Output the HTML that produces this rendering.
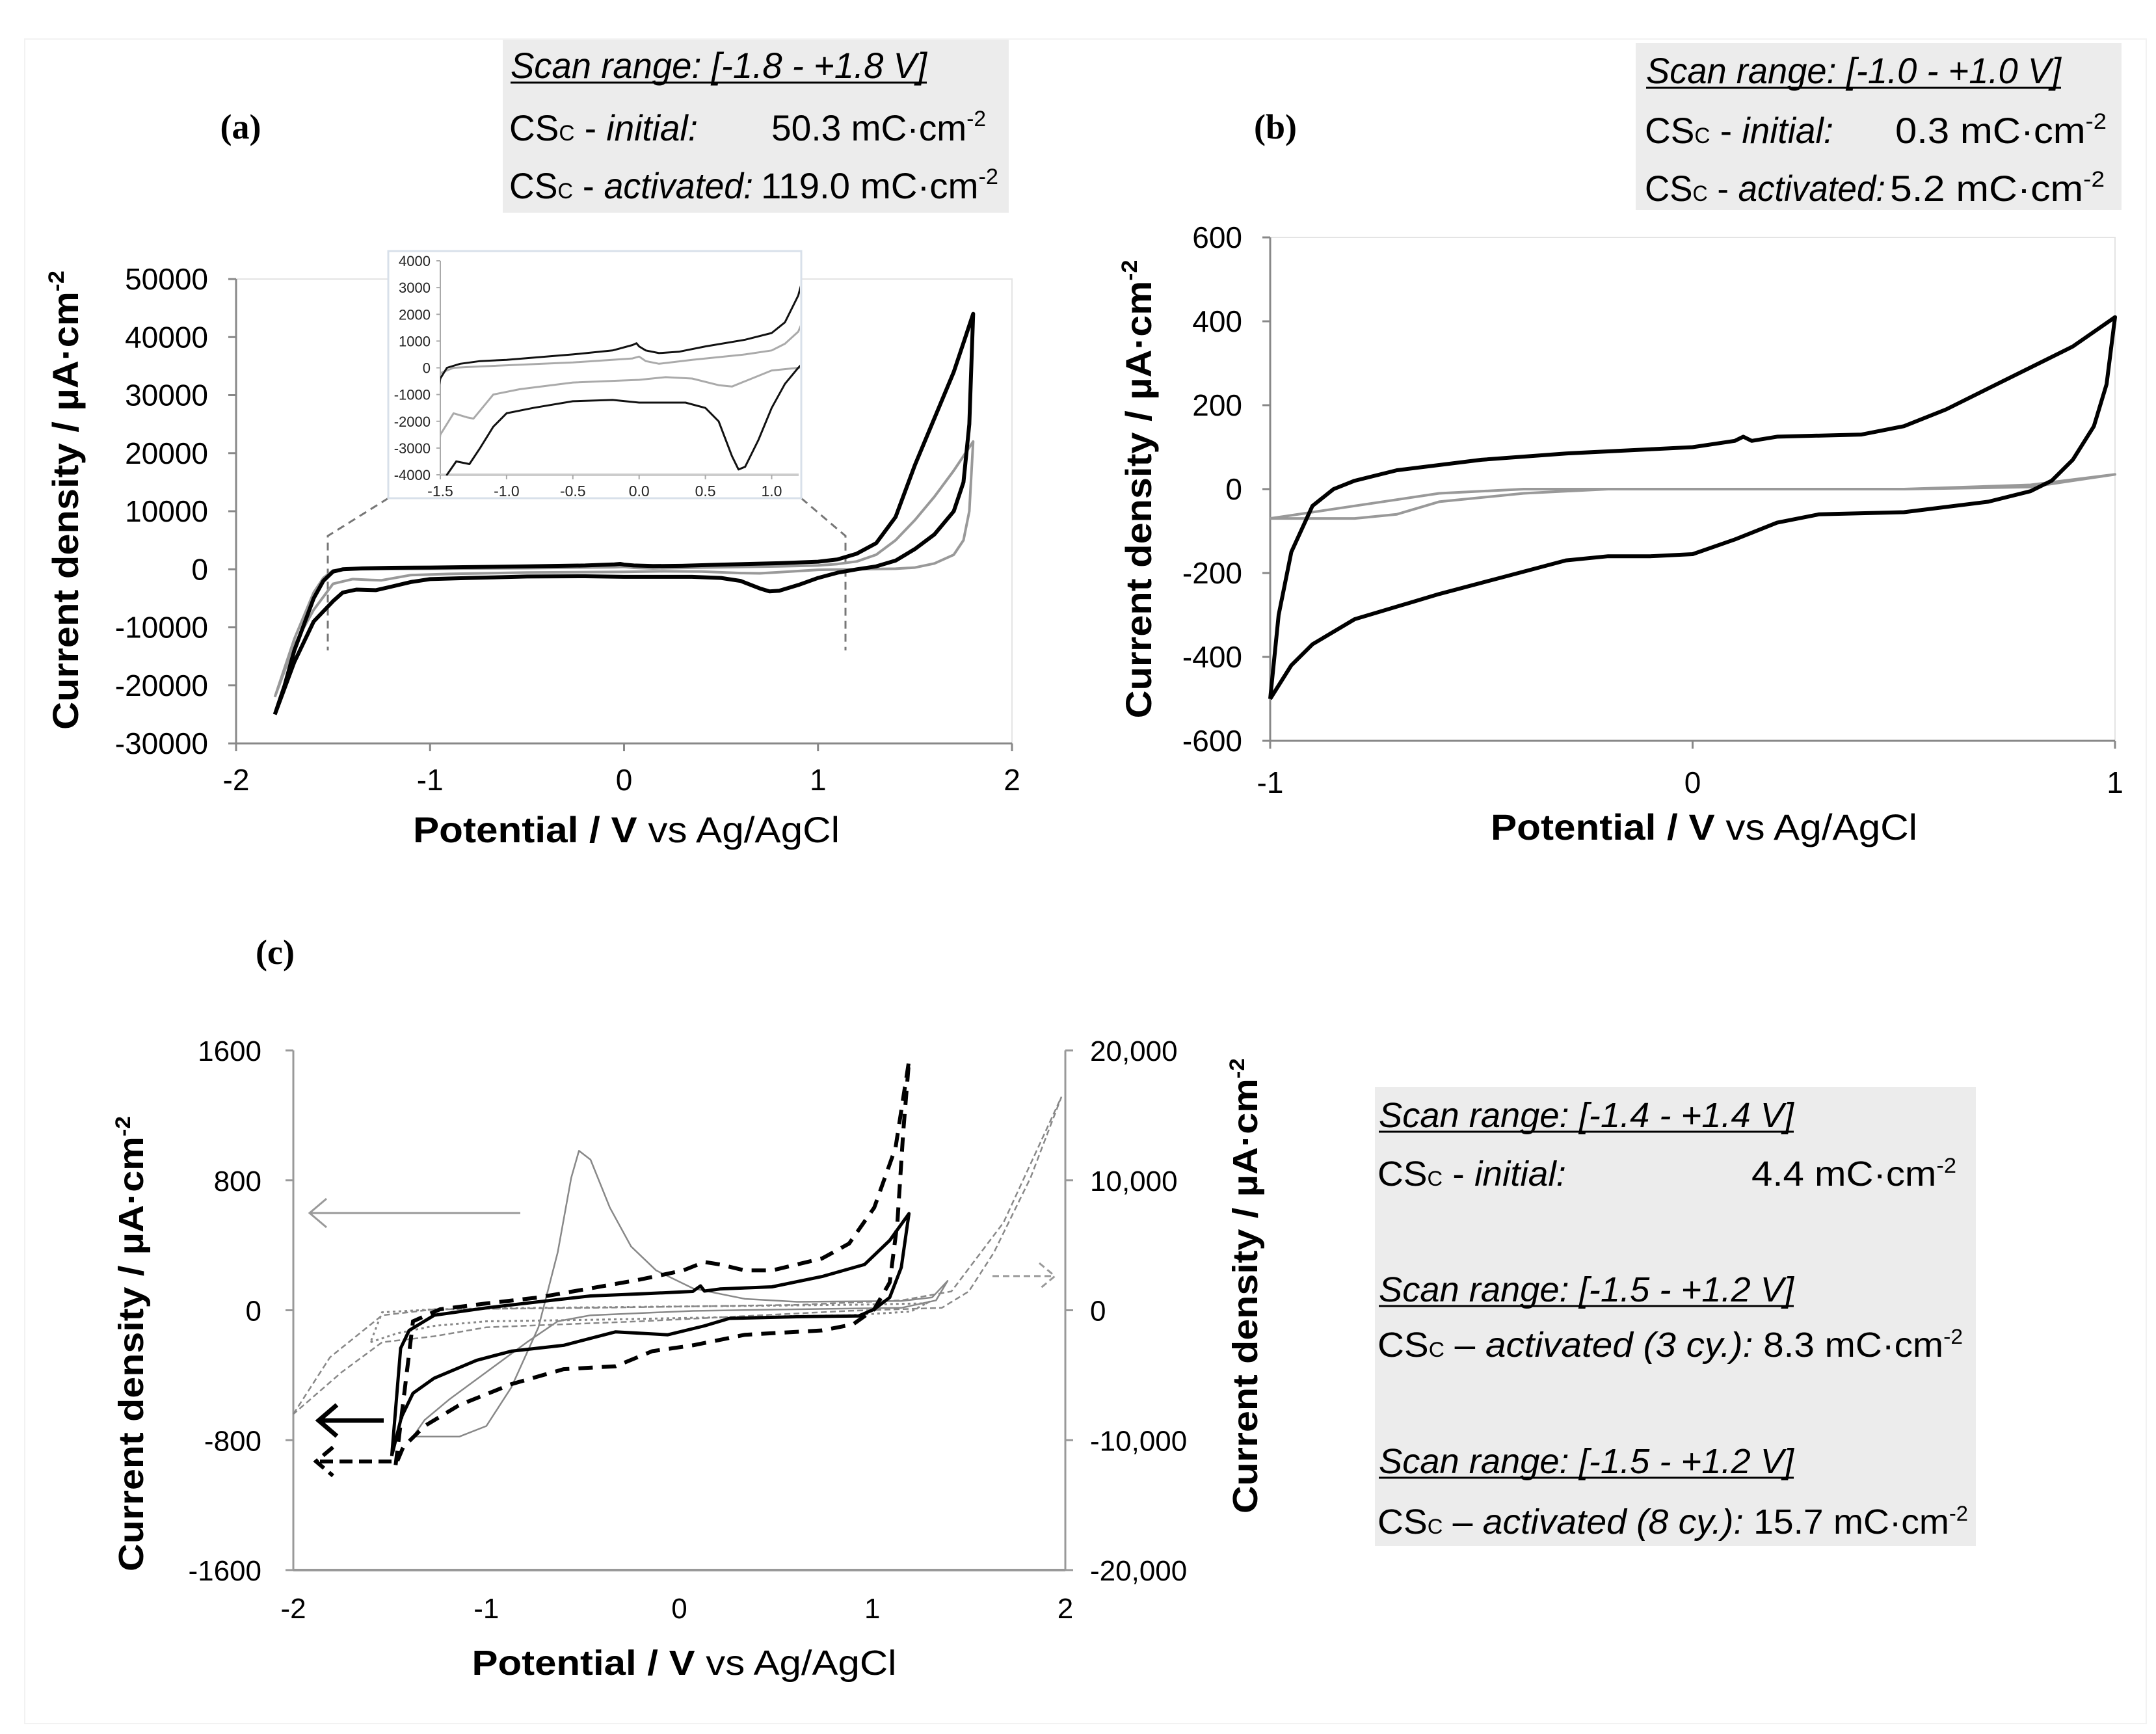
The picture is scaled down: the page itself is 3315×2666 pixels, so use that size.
<!DOCTYPE html>
<html><head><meta charset="utf-8"><style>
html,body{margin:0;padding:0;background:#fff;}
svg{display:block;font-family:"Liberation Sans",sans-serif;}
</style></head><body>
<svg id="fig" xmlns="http://www.w3.org/2000/svg" width="3315" height="2666" viewBox="0 0 3315 2666">
<rect x="0" y="0" width="3315" height="2666" fill="#fff"/>
<rect x="38" y="60" width="3262" height="2590" fill="none" stroke="#f2f2f2" stroke-width="2"/>

<g>
<text x="370" y="213" font-family="Liberation Serif" font-weight="bold" font-size="54" text-anchor="middle">(a)</text>
<rect x="773" y="61" width="778" height="266" fill="#ececec"/>
<text x="785" y="120" font-size="56" font-style="italic" textLength="640" lengthAdjust="spacingAndGlyphs">Scan range: [-1.8 - +1.8 V]</text>
<line x1="785" y1="127" x2="1425" y2="127" stroke="#000" stroke-width="3"/>
<text x="783" y="216" font-size="56" textLength="290" lengthAdjust="spacingAndGlyphs">CS<tspan font-size="34">C</tspan> - <tspan font-style="italic">initial:</tspan></text>
<text x="1186" y="216" font-size="56" textLength="330" lengthAdjust="spacingAndGlyphs">50.3  mC·cm<tspan font-size="34" dy="-22">-2</tspan></text>
<text x="783" y="305" font-size="56" textLength="375" lengthAdjust="spacingAndGlyphs">CS<tspan font-size="34">C</tspan> - <tspan font-style="italic">activated:</tspan></text>
<text x="1170" y="305" font-size="56" textLength="365" lengthAdjust="spacingAndGlyphs">119.0  mC·cm<tspan font-size="34" dy="-22">-2</tspan></text>
<g id="a-axes"></g>
<g id="a-series"></g>
<g id="a-inset"></g>
<text x="963" y="1295" font-size="56" text-anchor="middle" textLength="656" lengthAdjust="spacingAndGlyphs"><tspan font-weight="bold">Potential / V</tspan> vs Ag/AgCl</text>
<text transform="translate(120,769) rotate(-90)" font-size="56" font-weight="bold" text-anchor="middle" textLength="706" lengthAdjust="spacingAndGlyphs">Current density / µA·cm<tspan font-size="34" dy="-22">-2</tspan></text>
</g>

<g>
<text x="1961" y="213" font-family="Liberation Serif" font-weight="bold" font-size="54" text-anchor="middle">(b)</text>
<rect x="2515" y="66" width="747" height="257" fill="#ececec"/>
<text x="2531" y="128" font-size="56" font-style="italic" textLength="638" lengthAdjust="spacingAndGlyphs">Scan range: [-1.0 - +1.0 V]</text>
<line x1="2531" y1="135" x2="3169" y2="135" stroke="#000" stroke-width="3"/>
<text x="2529" y="220" font-size="56" textLength="290" lengthAdjust="spacingAndGlyphs">CS<tspan font-size="34">C</tspan> - <tspan font-style="italic">initial:</tspan></text>
<text x="2914" y="220" font-size="56" textLength="325" lengthAdjust="spacingAndGlyphs">0.3  mC·cm<tspan font-size="34" dy="-22">-2</tspan></text>
<text x="2529" y="309" font-size="56" textLength="370" lengthAdjust="spacingAndGlyphs">CS<tspan font-size="34">C</tspan> - <tspan font-style="italic">activated:</tspan></text>
<text x="2906" y="309" font-size="56" textLength="330" lengthAdjust="spacingAndGlyphs">5.2  mC·cm<tspan font-size="34" dy="-22">-2</tspan></text>
<g id="b-axes"></g>
<g id="b-series"></g>
<text x="2620" y="1291" font-size="56" text-anchor="middle" textLength="656" lengthAdjust="spacingAndGlyphs"><tspan font-weight="bold">Potential / V</tspan> vs Ag/AgCl</text>
<text transform="translate(1770,752) rotate(-90)" font-size="56" font-weight="bold" text-anchor="middle" textLength="705" lengthAdjust="spacingAndGlyphs">Current density / µA·cm<tspan font-size="34" dy="-22">-2</tspan></text>
</g>

<g>
<text x="423" y="1482" font-family="Liberation Serif" font-weight="bold" font-size="54" text-anchor="middle">(c)</text>
<rect x="2114" y="1671" width="924" height="706" fill="#ececec"/>
<text x="2120" y="1733" font-size="54" font-style="italic" textLength="638" lengthAdjust="spacingAndGlyphs">Scan range: [-1.4 - +1.4 V]</text>
<line x1="2120" y1="1740" x2="2758" y2="1740" stroke="#000" stroke-width="3"/>
<text x="2118" y="1823" font-size="54" textLength="290" lengthAdjust="spacingAndGlyphs">CS<tspan font-size="32">C</tspan> - <tspan font-style="italic">initial:</tspan></text>
<text x="2693" y="1823" font-size="54" textLength="315" lengthAdjust="spacingAndGlyphs">4.4  mC·cm<tspan font-size="32" dy="-20">-2</tspan></text>
<text x="2120" y="2001" font-size="54" font-style="italic" textLength="638" lengthAdjust="spacingAndGlyphs">Scan range: [-1.5 - +1.2 V]</text>
<line x1="2120" y1="2008" x2="2758" y2="2008" stroke="#000" stroke-width="3"/>
<text x="2118" y="2086" font-size="54" textLength="900" lengthAdjust="spacingAndGlyphs">CS<tspan font-size="32">C</tspan> – <tspan font-style="italic">activated (3 cy.):</tspan>  8.3  mC·cm<tspan font-size="32" dy="-20">-2</tspan></text>
<text x="2120" y="2265" font-size="54" font-style="italic" textLength="638" lengthAdjust="spacingAndGlyphs">Scan range: [-1.5 - +1.2 V]</text>
<line x1="2120" y1="2272" x2="2758" y2="2272" stroke="#000" stroke-width="3"/>
<text x="2118" y="2358" font-size="54" textLength="908" lengthAdjust="spacingAndGlyphs">CS<tspan font-size="32">C</tspan> – <tspan font-style="italic">activated (8 cy.):</tspan> 15.7  mC·cm<tspan font-size="32" dy="-20">-2</tspan></text>
<g id="c-axes"></g>
<g id="c-series"></g>
<text x="1052" y="2575" font-size="54" text-anchor="middle" textLength="653" lengthAdjust="spacingAndGlyphs"><tspan font-weight="bold">Potential / V</tspan> vs Ag/AgCl</text>
<text transform="translate(220,2066) rotate(-90)" font-size="54" font-weight="bold" text-anchor="middle" textLength="700" lengthAdjust="spacingAndGlyphs">Current density / µA·cm<tspan font-size="32" dy="-20">-2</tspan></text>
<text transform="translate(1933,1977) rotate(-90)" font-size="54" font-weight="bold" text-anchor="middle" textLength="700" lengthAdjust="spacingAndGlyphs">Current density / µA·cm<tspan font-size="32" dy="-20">-2</tspan></text>
</g>
</svg>
<script>
const aXTicks = [-2, -1, 0, 1, 2];
const aYTicks = [50000, 40000, 30000, 20000, 10000, 0, -10000, -20000, -30000];
const aInsetXTicks = [-1.5, -1.0, -0.5, 0.0, 0.5, 1.0];
const aInsetYTicks = [4000, 3000, 2000, 1000, 0, -1000, -2000, -3000, -4000];
const aActivatedV = [-1.8,-1.75,-1.7,-1.6,-1.55,-1.5,-1.45,-1.35,-1.2,-1.0,-0.5,-0.2,-0.05,-0.02,0.0,0.05,0.15,0.3,0.5,0.8,1.0,1.1,1.2,1.3,1.4,1.5,1.6,1.7,1.8,1.8,1.78,1.75,1.7,1.6,1.5,1.4,1.3,1.2,1.1,1.0,0.9,0.8,0.75,0.7,0.6,0.5,0.35,0.0,-0.2,-0.5,-0.8,-1.0,-1.1,-1.2,-1.28,-1.38,-1.45,-1.5,-1.6,-1.7,-1.8];
const aActivatedJ = [-25000,-20000,-14000,-5000,-2000,-400,0,150,250,300,500,650,850,920,800,650,550,600,800,1050,1300,1700,2700,4500,9000,18000,26000,34000,44000,44000,25000,15000,10000,6000,3500,1500,500,0,-600,-1500,-2700,-3700,-3800,-3300,-2000,-1500,-1300,-1300,-1200,-1250,-1500,-1700,-2200,-3000,-3600,-3500,-4000,-5500,-9000,-16000,-25000];
const aInitialV = [-1.8,-1.7,-1.6,-1.55,-1.5,-1.4,-1.2,-0.5,-0.05,0.0,0.05,0.15,0.4,0.8,1.0,1.1,1.2,1.3,1.4,1.5,1.6,1.7,1.8,1.8,1.78,1.75,1.7,1.6,1.5,1.4,1.2,1.0,0.8,0.7,0.6,0.4,0.2,0.0,-0.5,-0.9,-1.1,-1.25,-1.3,-1.4,-1.5,-1.6,-1.7,-1.8];
const aInitialJ = [-22000,-12000,-4000,-1500,-200,0,50,200,350,420,250,150,300,500,650,900,1350,2500,5000,8500,12500,17000,22000,22000,10000,5000,2500,1000,300,100,0,-100,-500,-700,-650,-400,-350,-450,-550,-800,-1000,-1900,-1850,-1700,-2500,-7000,-13000,-22000];

const bXTicks = [-1, 0, 1];
const bYTicks = [600, 400, 200, 0, -200, -400, -600];
const bActivatedV = [-1,-0.98,-0.95,-0.9,-0.85,-0.8,-0.7,-0.5,-0.3,-0.1,0,0.1,0.12,0.14,0.2,0.4,0.5,0.6,0.7,0.8,0.9,1.0,1.0,0.98,0.95,0.9,0.85,0.8,0.7,0.5,0.3,0.2,0.1,0.0,-0.1,-0.2,-0.3,-0.45,-0.6,-0.8,-0.9,-0.95,-1.0];
const bActivatedJ = [-500,-300,-150,-40,0,20,45,70,85,95,100,115,125,115,125,130,150,190,240,290,340,410,410,250,150,70,20,-5,-30,-55,-60,-80,-120,-155,-160,-160,-170,-210,-250,-310,-370,-420,-500];
const bInitialV = [-1,-0.8,-0.6,-0.4,0,0.5,0.8,1.0,1.0,0.8,0.5,0.2,-0.2,-0.4,-0.6,-0.7,-0.8,-1.0];
const bInitialJ = [-70,-40,-10,0,0,0,10,35,35,5,0,0,0,-10,-30,-60,-70,-70];

const cXTicks = [-2, -1, 0, 1, 2];
const cLeftTicks = [1600, 800, 0, -800, -1600];
const cRightTicks = [20000, 10000, 0, -10000, -20000];
const cRightTickLabels = ["20,000", "10,000", "0", "-10,000", "-20,000"];
const c3cyV = [-1.49,-1.444,-1.40,-1.27,-1.0,-0.73,-0.46,-0.2,0.07,0.11,0.13,0.21,0.48,0.74,0.96,1.09,1.19,1.15,1.09,1.01,0.93,0.61,0.26,0.13,-0.06,-0.33,-0.6,-0.87,-1.05,-1.27,-1.38,-1.44,-1.49];
const c3cyJ = [-898,-234,-124,-31,15,52,88,101,116,150,118,131,144,208,282,430,595,264,79,6,-35,-40,-50,-96,-151,-133,-216,-252,-308,-418,-511,-658,-898];
const c8cyV = [-1.47,-1.38,-1.24,-1.0,-0.73,-0.46,-0.2,0.02,0.13,0.21,0.34,0.48,0.74,0.88,1.01,1.12,1.19,1.16,1.13,1.09,1.01,0.9,0.74,0.34,0.07,-0.14,-0.33,-0.6,-0.87,-1.14,-1.32,-1.43,-1.47];
const c8cyJ = [-953,-68,6,42,79,135,190,245,297,282,245,245,319,411,632,1000,1535,1093,540,171,6,-87,-124,-151,-216,-252,-345,-363,-455,-584,-713,-842,-953];
const cInitialV = [-1.38,-1.14,-1.0,-0.87,-0.73,-0.63,-0.56,-0.52,-0.46,-0.36,-0.25,-0.12,0.07,0.34,0.61,1.15,1.31,1.39,1.33,1.15,0.61,0.07,-0.46,-0.63,-0.79,-1.0,-1.19,-1.32,-1.38];
const cInitialJ = [-778,-778,-713,-474,-105,356,816,982,927,632,393,245,135,70,52,57,79,181,61,15,6,-4,-31,-68,-197,-381,-547,-676,-778];
const cWideV = [-2,-1.81,-1.54,-1.27,-0.46,0.61,1.15,1.41,1.68,1.98,1.82,1.63,1.50,1.36,0.88,-0.2,-1.0,-1.27,-1.54,-1.75,-2];
const cWideJ = [-7995,-3618,-392,69,184,415,760,1452,6751,16429,10207,4447,1452,184,-46,-853,-1313,-2005,-2465,-4770,-7995];
const cDotV = [-1.6,-1.46,-1.27,-1.0,-0.46,0.34,0.88,1.2,1.3,1.28,0.88,0.07,-0.73,-1.27,-1.54,-1.6];
const cDotJ = [-2465,-1774,-1200,-853,-737,-507,-392,-100,700,530,415,300,184,69,-161,-2465];

const NS = "http://www.w3.org/2000/svg";
function el(parent, tag, attrs, text){
  const e = document.createElementNS(NS, tag);
  for (const k in attrs) e.setAttribute(k, attrs[k]);
  if (text !== undefined) e.textContent = text;
  parent.appendChild(e);
  return e;
}
function lin(d0, d1, p0, p1){ return v => p0 + (v - d0) * (p1 - p0) / (d1 - d0); }
function pathD(xs, ys, X, Y){
  return xs.map((v, i) => (i ? "L" : "M") + X(v).toFixed(1) + " " + Y(ys[i]).toFixed(1)).join(" ");
}

const aX = lin(-2, 2, 363, 1556);
const aY = lin(50000, -30000, 429, 1143);
const aAx = document.getElementById("a-axes");
let r = el(aAx, "rect", {x: 363, y: 429, width: 1193, height: 714, fill: "none", stroke: "#e4e4e4", "stroke-width": 2});


let ln = el(aAx, "line", {x1: 363, y1: 429, x2: 363, y2: 1143, stroke: "#888", "stroke-width": 3});


ln = el(aAx, "line", {x1: 363, y1: 1143, x2: 1556, y2: 1143, stroke: "#888", "stroke-width": 3});


aYTicks.forEach(v => {
  el(aAx, "line", {x1: 351, y1: aY(v), x2: 363, y2: aY(v), stroke: "#888", "stroke-width": 3});
  const t = el(aAx, "text", {x: 320, y: aY(v) + 16, "font-size": 46, "text-anchor": "end"}, String(v));
  
  
});
aXTicks.forEach(v => {
  el(aAx, "line", {x1: aX(v), y1: 1143, x2: aX(v), y2: 1155, stroke: "#888", "stroke-width": 3});
  const t = el(aAx, "text", {x: aX(v), y: 1215, "font-size": 46, "text-anchor": "middle"}, String(v));
  
  
});
const zc = el(aAx, "path", {d: "M597 766 L504 824 L504 1000 M1232 766 L1300 824 L1300 1000", fill: "none", stroke: "#777", "stroke-width": 3, "stroke-dasharray": "12 8"});



const aS = document.getElementById("a-series");
let p = el(aS, "path", {d: pathD(aInitialV, aInitialJ, aX, aY), fill: "none", stroke: "#999", "stroke-width": 4, "stroke-linejoin": "round"});


p = el(aS, "path", {d: pathD(aActivatedV, aActivatedJ, aX, aY), fill: "none", stroke: "#000", "stroke-width": 6, "stroke-linejoin": "round"});



const iX = lin(-1.5, 1.0, 677, 1186.5);
const iY = lin(4000, -4000, 401, 730);
const aI = document.getElementById("a-inset");
r = el(aI, "rect", {x: 597, y: 386, width: 635, height: 380, fill: "#fff", stroke: "#d8e0ea", "stroke-width": 3});


el(aI, "clipPath", {id: "insetclip"});
el(document.getElementById("insetclip"), "rect", {x: 677, y: 395, width: 553, height: 336});
el(aI, "line", {x1: 677, y1: 401, x2: 677, y2: 730, stroke: "#aaa", "stroke-width": 2});
el(aI, "line", {x1: 677, y1: 730, x2: 1228, y2: 730, stroke: "#ccc", "stroke-width": 4});
aInsetYTicks.forEach(v => {
  el(aI, "line", {x1: 671, y1: iY(v), x2: 677, y2: iY(v), stroke: "#aaa", "stroke-width": 2});
  const t = el(aI, "text", {x: 662, y: iY(v) + 8, "font-size": 22, "text-anchor": "end", fill: "#222"}, String(v));
  
  
});
aInsetXTicks.forEach(v => {
  el(aI, "line", {x1: iX(v), y1: 730, x2: iX(v), y2: 737, stroke: "#aaa", "stroke-width": 2});
  const t = el(aI, "text", {x: iX(v), y: 763, "font-size": 23, "text-anchor": "middle", fill: "#222"}, v.toFixed(1));
  
  
});
const ig = el(aI, "g", {"clip-path": "url(#insetclip)"});
p = el(ig, "path", {d: pathD(aInitialV, aInitialJ, iX, iY), fill: "none", stroke: "#aaa", "stroke-width": 3, "stroke-linejoin": "round"});


p = el(ig, "path", {d: pathD(aActivatedV, aActivatedJ, iX, iY), fill: "none", stroke: "#111", "stroke-width": 3, "stroke-linejoin": "round"});



const bX = lin(-1, 1, 1953, 3252);
const bY = lin(600, -600, 365, 1139);
const bAx = document.getElementById("b-axes");
r = el(bAx, "rect", {x: 1953, y: 365, width: 1299, height: 774, fill: "none", stroke: "#e4e4e4", "stroke-width": 2});


ln = el(bAx, "line", {x1: 1953, y1: 365, x2: 1953, y2: 1139, stroke: "#888", "stroke-width": 3});


ln = el(bAx, "line", {x1: 1953, y1: 1139, x2: 3252, y2: 1139, stroke: "#888", "stroke-width": 3});


bYTicks.forEach(v => {
  el(bAx, "line", {x1: 1941, y1: bY(v), x2: 1953, y2: bY(v), stroke: "#888", "stroke-width": 3});
  const t = el(bAx, "text", {x: 1910, y: bY(v) + 16, "font-size": 46, "text-anchor": "end"}, String(v));
  
  
});
bXTicks.forEach(v => {
  el(bAx, "line", {x1: bX(v), y1: 1139, x2: bX(v), y2: 1151, stroke: "#888", "stroke-width": 3});
  const t = el(bAx, "text", {x: bX(v), y: 1219, "font-size": 46, "text-anchor": "middle"}, String(v));
  
  
});
const bS = document.getElementById("b-series");
p = el(bS, "path", {d: pathD(bInitialV, bInitialJ, bX, bY), fill: "none", stroke: "#999", "stroke-width": 4, "stroke-linejoin": "round"});


p = el(bS, "path", {d: pathD(bActivatedV, bActivatedJ, bX, bY), fill: "none", stroke: "#000", "stroke-width": 6, "stroke-linejoin": "round"});



const cX = lin(-2, 2, 451, 1638);
const cYL = lin(1600, -1600, 1615, 2414);
const cYR = lin(20000, -20000, 1615, 2414);
const cAx = document.getElementById("c-axes");
ln = el(cAx, "line", {x1: 451, y1: 1615, x2: 451, y2: 2414, stroke: "#999", "stroke-width": 3});


ln = el(cAx, "line", {x1: 1638, y1: 1615, x2: 1638, y2: 2414, stroke: "#999", "stroke-width": 3});


ln = el(cAx, "line", {x1: 451, y1: 2414, x2: 1638, y2: 2414, stroke: "#999", "stroke-width": 4});


cLeftTicks.forEach(v => {
  el(cAx, "line", {x1: 439, y1: cYL(v), x2: 451, y2: cYL(v), stroke: "#999", "stroke-width": 3});
  const t = el(cAx, "text", {x: 402, y: cYL(v) + 16, "font-size": 44, "text-anchor": "end"}, String(v));
  
  
});
cRightTicks.forEach((v, i) => {
  el(cAx, "line", {x1: 1638, y1: cYR(v), x2: 1650, y2: cYR(v), stroke: "#999", "stroke-width": 3});
  const t = el(cAx, "text", {x: 1676, y: cYR(v) + 16, "font-size": 44, "text-anchor": "start"}, cRightTickLabels[i]);
  
  
});
cXTicks.forEach(v => {
  const t = el(cAx, "text", {x: cX(v), y: 2488, "font-size": 44, "text-anchor": "middle"}, String(v));
  
  
});
const cS = document.getElementById("c-series");
p = el(cS, "path", {d: pathD(cDotV, cDotJ, cX, cYR), fill: "none", stroke: "#888", "stroke-width": 3, "stroke-dasharray": "4 5"});


p = el(cS, "path", {d: pathD(cWideV, cWideJ, cX, cYR), fill: "none", stroke: "#888", "stroke-width": 2.5, "stroke-dasharray": "9 5"});


p = el(cS, "path", {d: pathD(cInitialV, cInitialJ, cX, cYL), fill: "none", stroke: "#888", "stroke-width": 2.5, "stroke-linejoin": "round"});


p = el(cS, "path", {d: pathD(c8cyV, c8cyJ, cX, cYL), fill: "none", stroke: "#000", "stroke-width": 6, "stroke-dasharray": "22 14"});


p = el(cS, "path", {d: pathD(c3cyV, c3cyJ, cX, cYL), fill: "none", stroke: "#000", "stroke-width": 5, "stroke-linejoin": "round"});


let a = el(cS, "path", {d: "M800 1865 L478 1865 M502 1843 L476 1865 L502 1887", fill: "none", stroke: "#999", "stroke-width": 3});


a = el(cS, "path", {d: "M1526 1962 L1622 1962 M1598 1942 L1622 1962 L1598 1982", fill: "none", stroke: "#999", "stroke-width": 3, "stroke-dasharray": "10 6"});


a = el(cS, "path", {d: "M590 2184 L490 2184 M518 2160 L490 2184 L518 2208", fill: "none", stroke: "#000", "stroke-width": 7});


a = el(cS, "path", {d: "M602 2247 L486 2247 M512 2225 L486 2247 L512 2269", fill: "none", stroke: "#000", "stroke-width": 6, "stroke-dasharray": "20 10"});


</script>
</body></html>
